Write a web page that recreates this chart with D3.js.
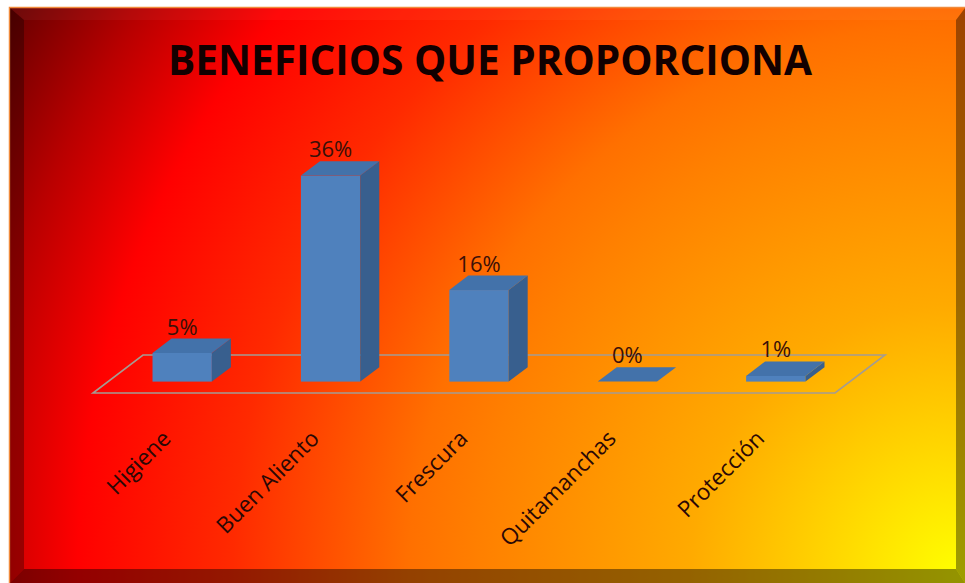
<!DOCTYPE html>
<html><head><meta charset="utf-8">
<script src="https://cdn.jsdelivr.net/npm/d3@7"></script>
<style>body{margin:0;background:#fff;} svg{display:block}</style>
</head><body>
<svg id="chart" width="965" height="583"></svg>
<script>
const title = "BENEFICIOS QUE PROPORCIONA";
const categories = ["Higiene", "Buen Aliento", "Frescura", "Quitamanchas", "Protección"];
const values = [5, 36, 16, 0, 1];
const valueLabels = ["5%", "36%", "16%", "0%", "1%"];

const svg = d3.select("#chart");
const defs = svg.append("defs");
const rg = defs.append("radialGradient").attr("id", "bg").attr("gradientUnits", "userSpaceOnUse")
  .attr("cx", 960).attr("cy", 575).attr("r", 1103).attr("fx", 960).attr("fy", 575);
[[0, "#ffff00"], [0.245, "#ffaa00"], [0.435, "#ff8000"], [0.5, "#ff7000"], [0.66, "#ff2a00"],
 [0.8, "#ff0000"], [0.9, "#b80000"], [1, "#680000"]].forEach(([o, c]) =>
  rg.append("stop").attr("offset", o).attr("stop-color", c));

// frame
svg.append("rect").attr("x", 9.5).attr("y", 7.5).attr("width", 965).attr("height", 590)
  .attr("fill", "url(#bg)").attr("stroke", "#f08a3c").attr("stroke-width", 1.5);
const bevel = (pts, col, op) => svg.append("polygon").attr("points", pts.map(p => p.join(",")).join(" "))
  .attr("fill", col).attr("opacity", op);
bevel([[10, 8], [24, 20], [24, 569], [10, 583]], "#000", 0.3);
bevel([[10, 583], [24, 569], [956, 569], [965, 583]], "#000", 0.42);
bevel([[965, 8], [956, 20], [956, 569], [965, 583]], "#000", 0.38);
bevel([[10, 8], [965, 8], [956, 20], [24, 20]], "#fff", 0.04);

// title
svg.append("text").attr("x", 490).attr("y", 75).attr("text-anchor", "middle")
  .attr("font-family", "'Open Sans', sans-serif").attr("font-weight", 700).attr("font-size", 42)
  .attr("textLength", 644).attr("lengthAdjust", "spacingAndGlyphs")
  .attr("fill", "#120000").text(title);

// 3D geometry
const floorFront = 393, floorX0 = 93, floorX1 = 835;
const depth = [50, -38];
const zFront = 0.3, zBack = 0.68;
const proj = (x, y, z) => [x + depth[0] * z, y + depth[1] * z];

const x = d3.scaleBand().domain(categories)
  .range([floorX0 + depth[0] * zFront, floorX1 + depth[0] * zFront])
  .paddingInner(0.6).paddingOuter(0.3);
const h = d3.scaleLinear().domain([0, 36]).range([0, 206]);
const baseY = floorFront + depth[1] * zFront;
const bdx = depth[0] * (zBack - zFront), bdy = depth[1] * (zBack - zFront);

// floor
const fl = [proj(floorX0, floorFront, 0), proj(floorX1, floorFront, 0), proj(floorX1, floorFront, 1), proj(floorX0, floorFront, 1)];
svg.append("polygon").attr("points", fl.map(p => p.join(",")).join(" "))
  .attr("fill", "none").attr("stroke", "#a49c92").attr("stroke-width", 1.6);

const g = svg.append("g");
categories.forEach((c, i) => {
  const x0 = x(c), bw = x.bandwidth(), x1 = x0 + bw;
  const yt = baseY - h(values[i]);
  const poly = (pts, fill) => g.append("polygon").attr("points", pts.map(p => p.join(",")).join(" ")).attr("fill", fill);
  if (values[i] > 0) {
    g.append("rect").attr("x", x0).attr("y", yt).attr("width", bw).attr("height", baseY - yt).attr("fill", "#4f81bd");
    poly([[x1, baseY], [x1 + bdx, baseY + bdy], [x1 + bdx, yt + bdy], [x1, yt]], "#385f8e");
  }
  poly([[x0, yt], [x1, yt], [x1 + bdx, yt + bdy], [x0 + bdx, yt + bdy]], "#4372aa");
  svg.append("text").attr("x", x0 + bw / 2).attr("y", yt + bdy - 4).attr("text-anchor", "middle")
    .attr("font-family", "'Open Sans', sans-serif").attr("font-size", 22).attr("fill", "#3b1008")
    .text(valueLabels[i]);
  svg.append("text").attr("transform", `translate(${x0 + bw / 2 - 10},440) rotate(-45)`)
    .attr("text-anchor", "end")
    .attr("font-family", "'Open Sans', sans-serif").attr("font-size", 22.5).attr("fill", "#2a0806")
    .text(c);
});
</script>
</body></html>
